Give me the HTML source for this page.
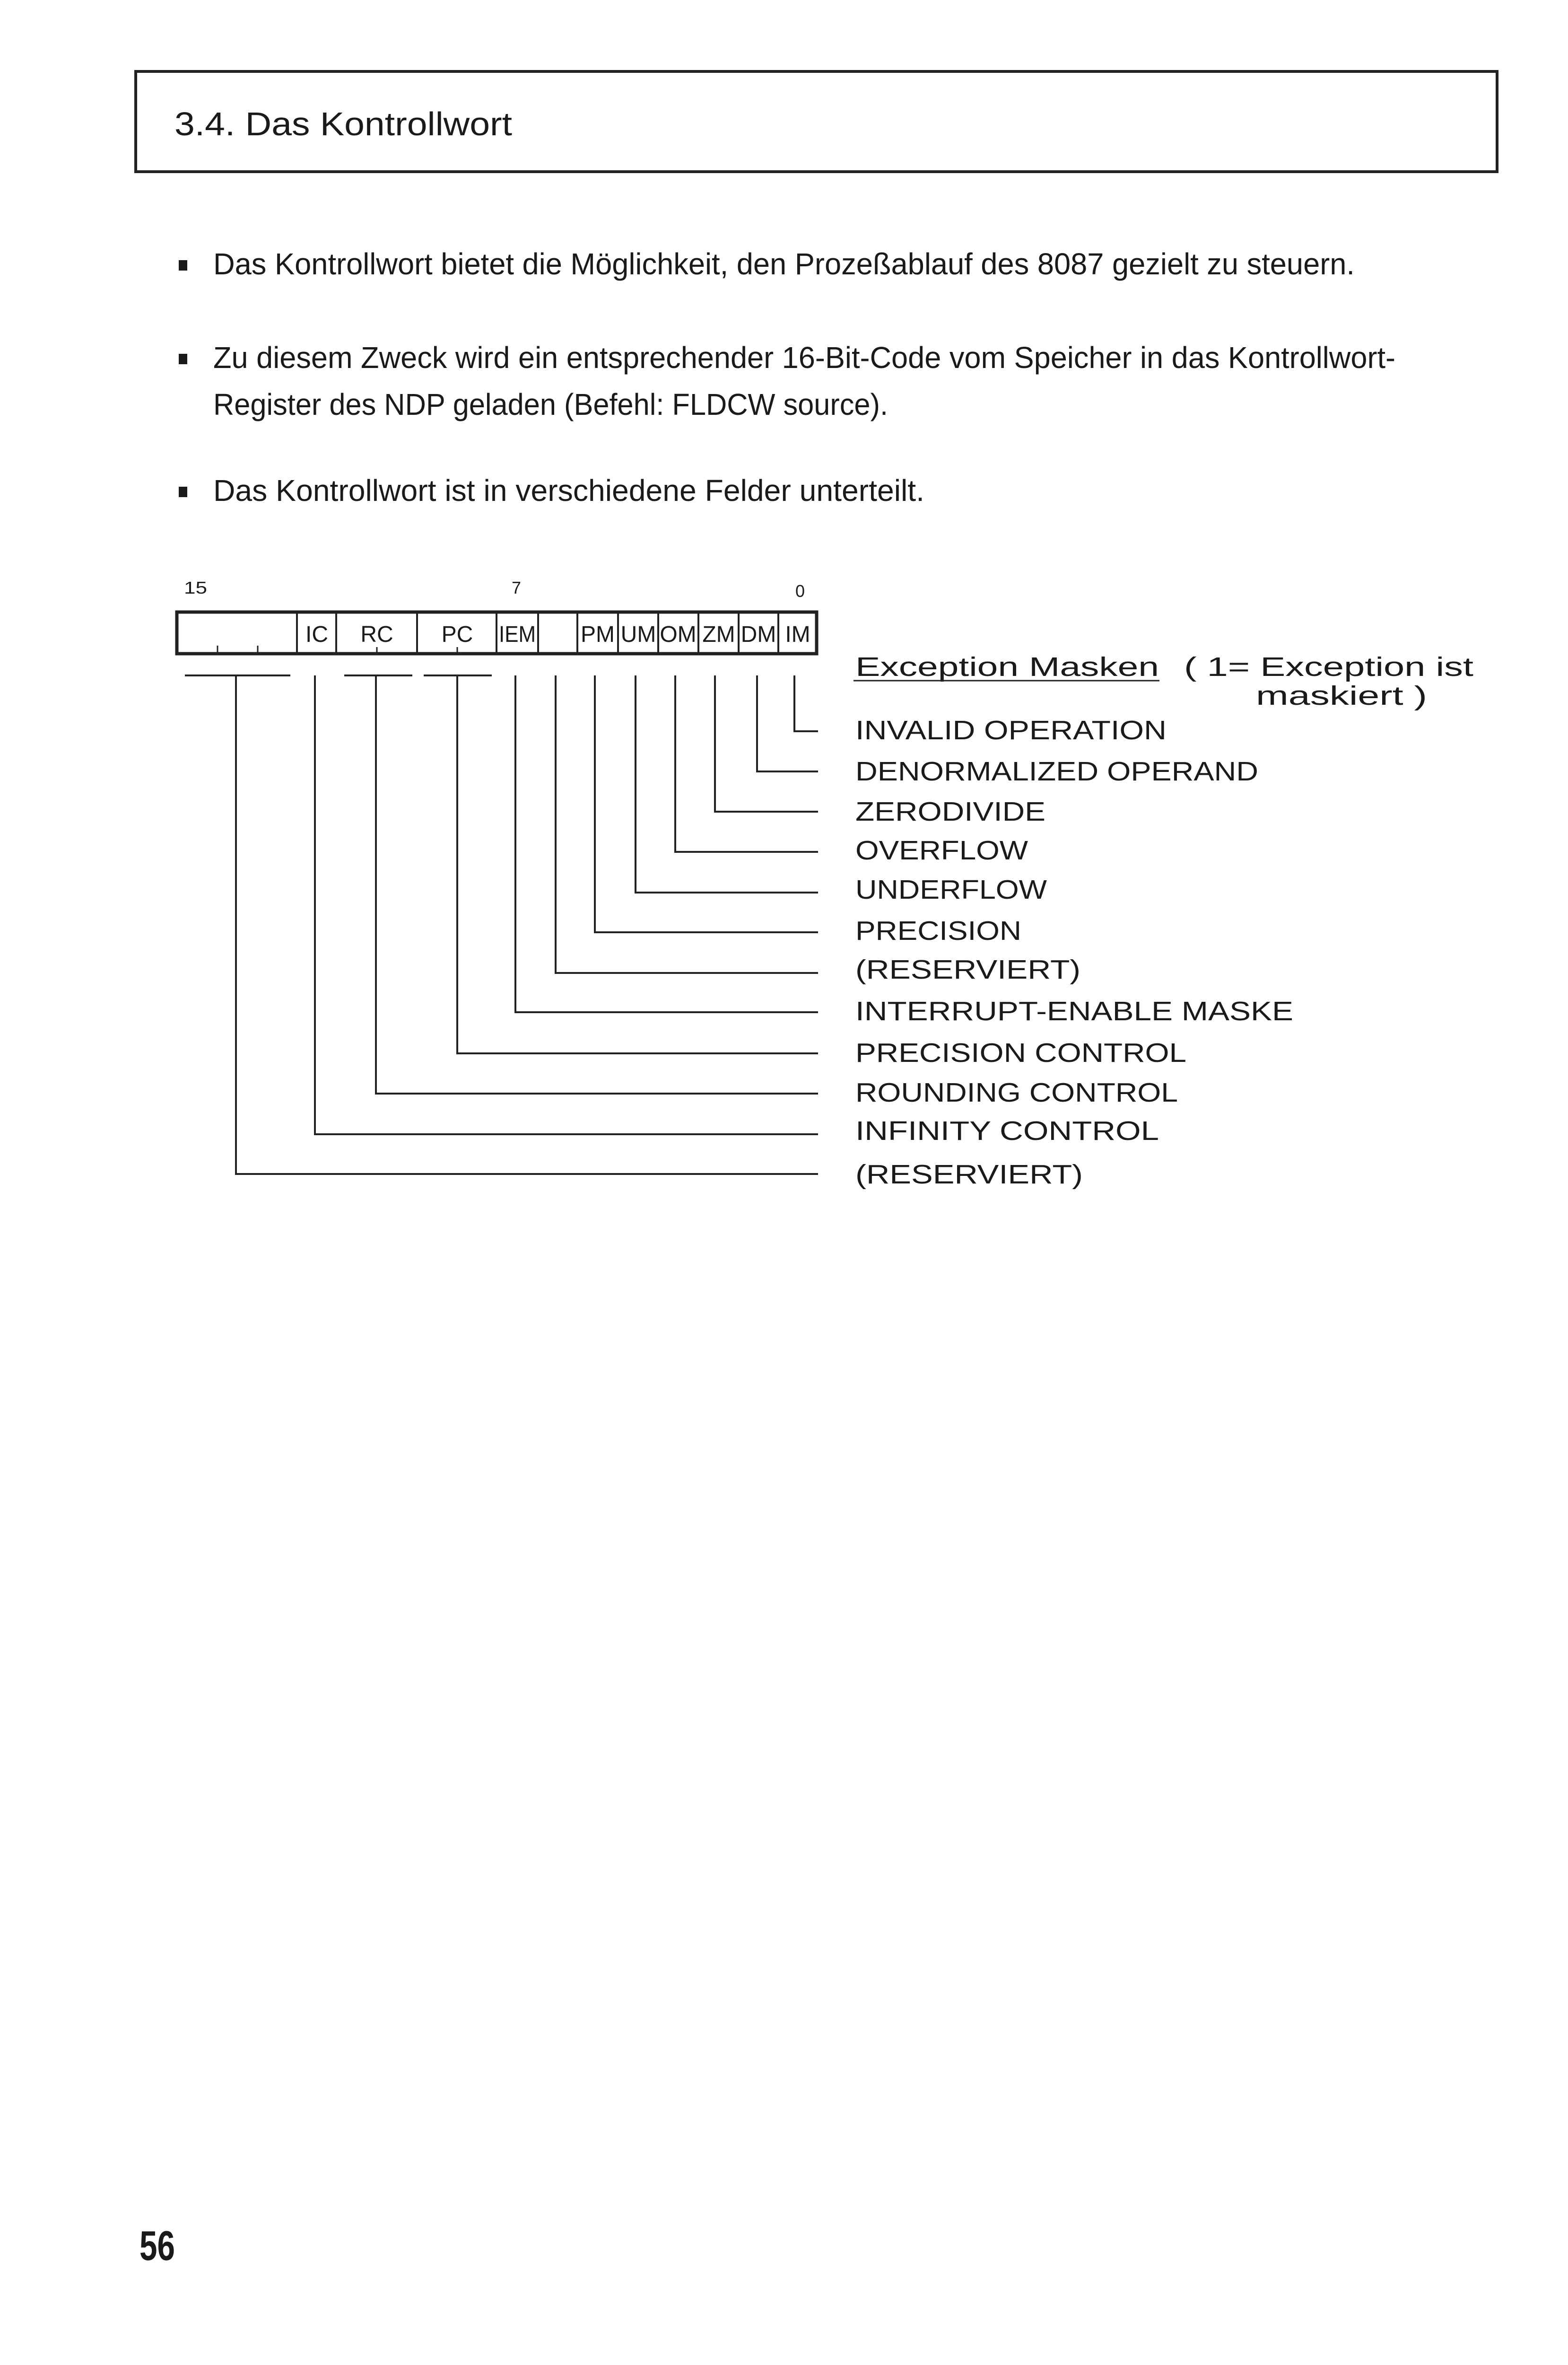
<!DOCTYPE html>
<html><head><meta charset="utf-8"><style>
html,body{margin:0;padding:0;background:#fff;width:3316px;height:5055px;overflow:hidden;}
svg{display:block;}
text{font-family:"Liberation Sans",sans-serif;fill:#1a1a1a;}
</style></head><body>
<svg width="3316" height="5055" viewBox="0 0 3316 5055" xmlns="http://www.w3.org/2000/svg">
<rect x="0" y="0" width="3316" height="5055" fill="#fff"/>
<rect x="287" y="151" width="2879" height="212" fill="none" stroke="#222" stroke-width="6"/>
<text x="369" y="286" font-size="70" textLength="714" lengthAdjust="spacingAndGlyphs">3.4.  Das Kontrollwort</text>
<g fill="#1a1a1a">
<rect x="378" y="550" width="18" height="22"/>
<rect x="378" y="748" width="18" height="22"/>
<rect x="378" y="1029" width="18" height="22"/>
</g>
<g font-size="64">
<text x="451" y="580" textLength="2414" lengthAdjust="spacingAndGlyphs">Das Kontrollwort bietet die Möglichkeit, den Prozeßablauf des 8087 gezielt zu steuern.</text>
<text x="451" y="778" textLength="2500" lengthAdjust="spacingAndGlyphs">Zu diesem Zweck wird ein entsprechender 16-Bit-Code vom Speicher in das Kontrollwort-</text>
<text x="451" y="877" textLength="1427" lengthAdjust="spacingAndGlyphs">Register des NDP geladen (Befehl: FLDCW source).</text>
<text x="451" y="1059" textLength="1504" lengthAdjust="spacingAndGlyphs">Das Kontrollwort ist in verschiedene Felder unterteilt.</text>
</g>
<g font-size="36">
<text x="389" y="1255" textLength="49" lengthAdjust="spacingAndGlyphs">15</text>
<text x="1082" y="1255">7</text>
<text x="1682" y="1262">0</text>
</g>
<rect x="374" y="1294" width="1353" height="88" fill="none" stroke="#222" stroke-width="7"/>
<g stroke="#222" stroke-width="4">
<line x1="628" y1="1294" x2="628" y2="1382"/>
<line x1="711" y1="1294" x2="711" y2="1382"/>
<line x1="882" y1="1294" x2="882" y2="1382"/>
<line x1="1050" y1="1294" x2="1050" y2="1382"/>
<line x1="1138" y1="1294" x2="1138" y2="1382"/>
<line x1="1221" y1="1294" x2="1221" y2="1382"/>
<line x1="1307" y1="1294" x2="1307" y2="1382"/>
<line x1="1392" y1="1294" x2="1392" y2="1382"/>
<line x1="1477" y1="1294" x2="1477" y2="1382"/>
<line x1="1562" y1="1294" x2="1562" y2="1382"/>
<line x1="1646" y1="1294" x2="1646" y2="1382"/>
<line x1="460" y1="1365" x2="460" y2="1382" stroke-width="3"/>
<line x1="545" y1="1365" x2="545" y2="1382" stroke-width="3"/>
<line x1="797" y1="1368" x2="797" y2="1382" stroke-width="3"/>
<line x1="967" y1="1368" x2="967" y2="1382" stroke-width="3"/>
</g>
<g font-size="48" text-anchor="middle">
<text x="670" y="1357">IC</text>
<text x="797" y="1357">RC</text>
<text x="967" y="1357">PC</text>
<text x="1094" y="1357" textLength="78" lengthAdjust="spacingAndGlyphs">IEM</text>
<text x="1264" y="1357">PM</text>
<text x="1350" y="1357">UM</text>
<text x="1434" y="1357">OM</text>
<text x="1520" y="1357">ZM</text>
<text x="1604" y="1357">DM</text>
<text x="1687" y="1357">IM</text>
</g>
<g stroke="#222" stroke-width="4" fill="none">
<line x1="391" y1="1428" x2="614" y2="1428"/>
<line x1="728" y1="1428" x2="872" y2="1428"/>
<line x1="896" y1="1428" x2="1040" y2="1428"/>
<polyline points="1680,1428 1680,1546 1730,1546"/>
<polyline points="1601,1428 1601,1631 1730,1631"/>
<polyline points="1512,1428 1512,1716 1730,1716"/>
<polyline points="1428,1428 1428,1801 1730,1801"/>
<polyline points="1344,1428 1344,1887 1730,1887"/>
<polyline points="1258,1428 1258,1971 1730,1971"/>
<polyline points="1175,1428 1175,2057 1730,2057"/>
<polyline points="1090,1428 1090,2140 1730,2140"/>
<polyline points="967,1428 967,2227 1730,2227"/>
<polyline points="795,1428 795,2312 1730,2312"/>
<polyline points="666,1428 666,2398 1730,2398"/>
<polyline points="499,1428 499,2482 1730,2482"/>
</g>
<g font-size="57">
<text x="1809" y="1429" textLength="642" lengthAdjust="spacingAndGlyphs">Exception Masken</text>
<line x1="1805" y1="1439" x2="2452" y2="1439" stroke="#222" stroke-width="3"/>
<text x="2504" y="1429" textLength="612" lengthAdjust="spacingAndGlyphs">( 1= Exception ist</text>
<text x="2656" y="1490" textLength="362" lengthAdjust="spacingAndGlyphs">maskiert )</text>
<text x="1809" y="1563" textLength="658" lengthAdjust="spacingAndGlyphs">INVALID OPERATION</text>
<text x="1809" y="1650" textLength="852" lengthAdjust="spacingAndGlyphs">DENORMALIZED OPERAND</text>
<text x="1809" y="1735" textLength="402" lengthAdjust="spacingAndGlyphs">ZERODIVIDE</text>
<text x="1809" y="1817" textLength="365" lengthAdjust="spacingAndGlyphs">OVERFLOW</text>
<text x="1809" y="1900" textLength="405" lengthAdjust="spacingAndGlyphs">UNDERFLOW</text>
<text x="1809" y="1987" textLength="351" lengthAdjust="spacingAndGlyphs">PRECISION</text>
<text x="1809" y="2069" textLength="476" lengthAdjust="spacingAndGlyphs">(RESERVIERT)</text>
<text x="1809" y="2157" textLength="926" lengthAdjust="spacingAndGlyphs">INTERRUPT-ENABLE MASKE</text>
<text x="1809" y="2245" textLength="700" lengthAdjust="spacingAndGlyphs">PRECISION CONTROL</text>
<text x="1809" y="2329" textLength="682" lengthAdjust="spacingAndGlyphs">ROUNDING CONTROL</text>
<text x="1809" y="2410" textLength="642" lengthAdjust="spacingAndGlyphs">INFINITY CONTROL</text>
<text x="1809" y="2502" textLength="481" lengthAdjust="spacingAndGlyphs">(RESERVIERT)</text>
</g>
<text x="295" y="4778" font-size="88" font-weight="bold" textLength="75" lengthAdjust="spacingAndGlyphs">56</text>
</svg>
</body></html>
